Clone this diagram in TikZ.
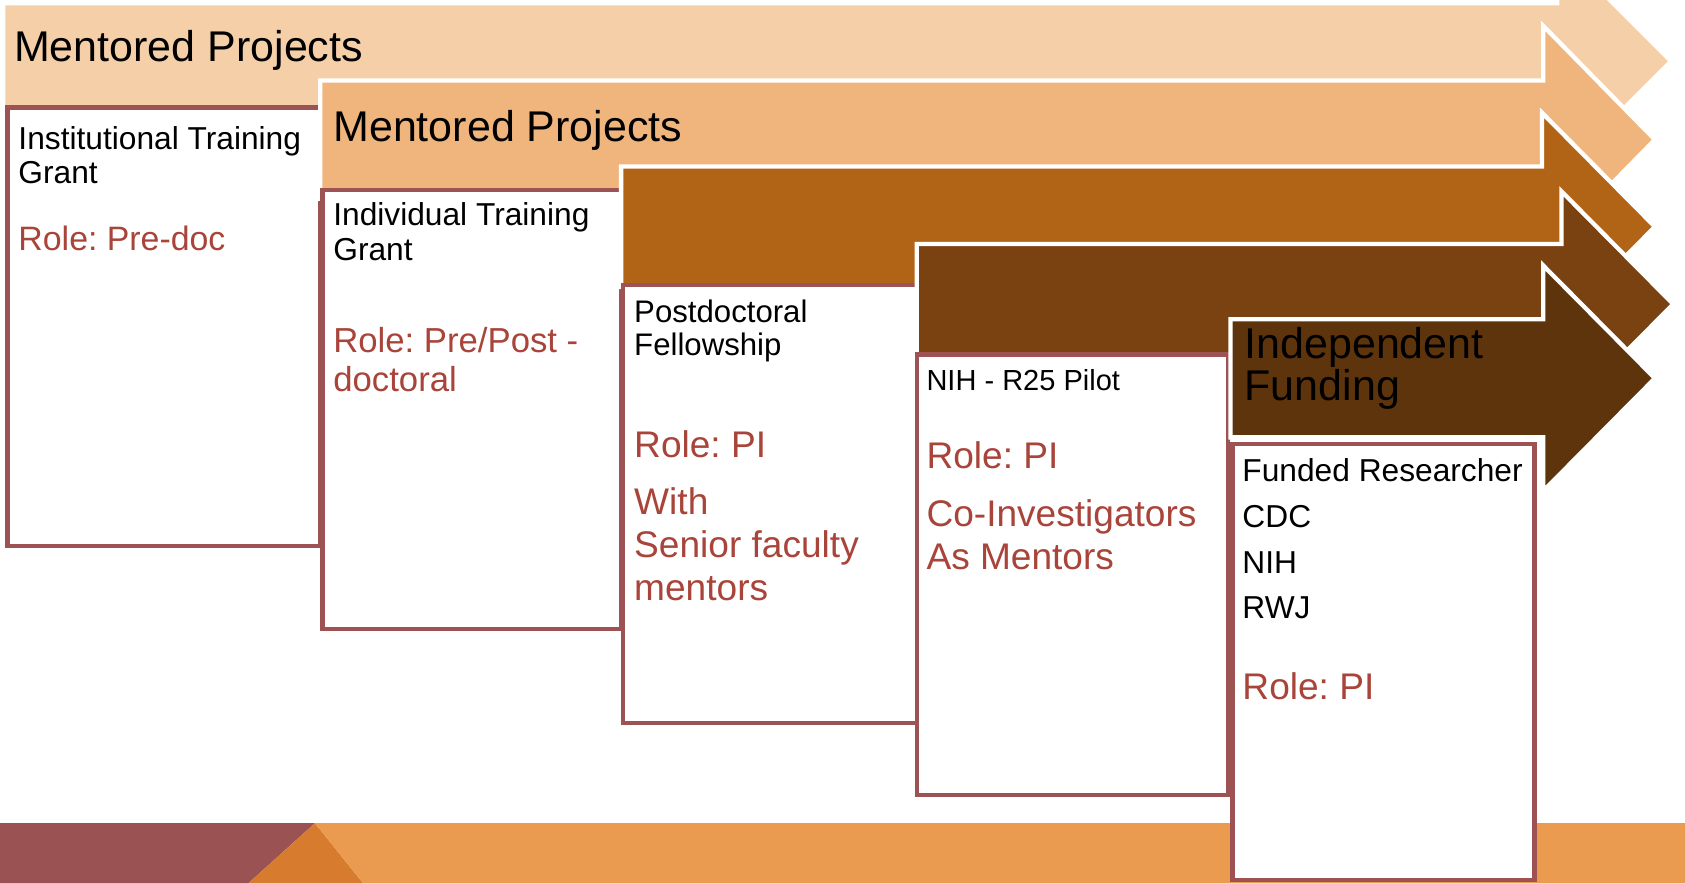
\documentclass[tikz,border=0pt]{standalone}
\usepackage{fontspec}
\setmainfont{Liberation Sans}
\frenchspacing

\definecolor{peach}{RGB}{245,207,168}
\definecolor{apricot}{RGB}{240,181,124}
\definecolor{rust}{RGB}{178,100,22}
\definecolor{umber}{RGB}{122,65,17}
\definecolor{darkumber}{RGB}{94,52,13}
\definecolor{cardline}{RGB}{157,82,84}
\definecolor{rolered}{RGB}{169,68,58}
\definecolor{bandred}{RGB}{155,82,82}
\definecolor{banddark}{RGB}{215,123,46}
\definecolor{bandlight}{RGB}{234,155,80}

\begin{document}
\begin{tikzpicture}[x=1pt, y=-1pt,
    stagearrow/.style={draw=white, line width=4pt, line join=miter},
    card/.style={draw=cardline, fill=white, line width=4pt},
    headtext/.style={anchor=base west, inner sep=0pt, align=left, font=\fontsize{40}{40}\selectfont},
    cardtext/.style={anchor=base west, inner sep=0pt, align=left, font=\fontsize{29.5}{32}\selectfont},
    roletext/.style={anchor=base west, inner sep=0pt, align=left, text=rolered, font=\fontsize{34.5}{40}\selectfont}]

    \useasboundingbox (0,0) rectangle (1568,822);
    \clip (0,0) rectangle (1568,822);

    % Bottom band
    \fill[bandred] (0,766) -- (293,766) -- (231,822) -- (0,822) -- cycle;
    \fill[banddark] (293,766) -- (338,822) -- (231,822) -- cycle;
    \fill[bandlight] (293,766) -- (1568,766) -- (1568,822) -- (338,822) -- cycle;

    % Stage 1 (multi-line nodes sit on their last line)
    \filldraw[stagearrow, fill=peach] (3,3) -- (1449,3) -- (1449,-49) -- (1555,57) -- (1449,163) -- (1449,111) -- (3,111) -- cycle;
    \node[headtext] (mentoredA) at (13,57) {Mentored Projects};
    \draw[card] (7,100) rectangle (298,508);
    \node[cardtext] (institutional) at (17,171) {Institutional Training\\Grant};
    \node[roletext, font=\fontsize{31.5}{36}\selectfont] (predoc) at (17,233) {Role: Pre-doc};

    % Stage 2
    \filldraw[stagearrow, fill=apricot] (298,75) -- (1436,75) -- (1436,24) -- (1540,130) -- (1436,236) -- (1436,185) -- (298,185) -- cycle;
    \node[headtext] (mentoredB) at (310,132) {Mentored Projects};
    \draw[card] (300,177) rectangle (578,585);
    \node[cardtext] (individual) at (310,242) {Individual Training\\Grant};
    \node[roletext, font=\fontsize{32.3}{36}\selectfont] (prepost) at (310,364) {Role: Pre/Post -\\doctoral};

    % Stage 3
    \filldraw[stagearrow, fill=rust] (578,155) -- (1435,155) -- (1435,105) -- (1540,211) -- (1435,317) -- (1435,267) -- (578,267) -- cycle;
    \draw[card] (580,265) rectangle (853,673);
    \node[cardtext, font=\fontsize{29}{31}\selectfont] (postdoc) at (590,331) {Postdoctoral\\Fellowship};
    \node[roletext] (piC) at (590,426) {Role: PI};
    \node[roletext] (senior) at (590,559) {With\\Senior faculty\\mentors};

    % Stage 4
    \filldraw[stagearrow, fill=umber] (853,227) -- (1453,227) -- (1453,178) -- (1557,283) -- (1453,388) -- (1453,339) -- (853,339) -- cycle;
    \draw[card] (853,330) rectangle (1143,740);
    \node[cardtext, font=\fontsize{27}{30}\selectfont] (pilot) at (862,363) {NIH - R25 Pilot};
    \node[roletext] (piD) at (862,436) {Role: PI};
    \node[roletext] (coinv) at (862,530) {Co-Investigators\\As Mentors};

    % Stage 5
    \filldraw[stagearrow, fill=darkumber] (1145,297) -- (1436,297) -- (1436,247) -- (1540,352) -- (1436,457) -- (1436,407) -- (1145,407) -- cycle;
    \node[headtext, font=\fontsize{40}{39}\selectfont] (independent) at (1158,373) {Independent\\Funding};
    \draw[card] (1147,413) rectangle (1428,819);
    \node[cardtext, font=\fontsize{29.5}{42.5}\selectfont] (funded) at (1156,576) {Funded Researcher\\CDC\\NIH\\RWJ};
    \node[roletext] (piE) at (1156,651) {Role: PI};

\end{tikzpicture}
\end{document}
